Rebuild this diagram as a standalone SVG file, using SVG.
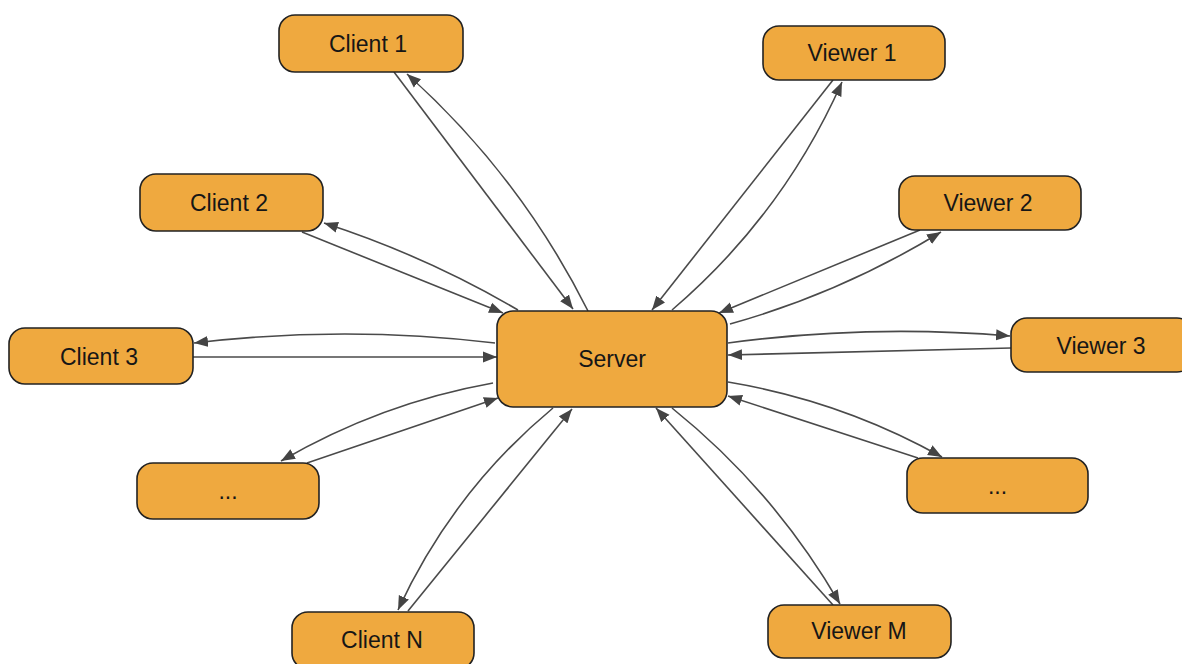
<svg xmlns="http://www.w3.org/2000/svg" width="1182" height="664" viewBox="0 0 1182 664">
<style>
.node rect{fill:#EFA93F;stroke:#222;stroke-width:1.6}
.node text{font-family:"Liberation Sans",Arial,sans-serif;font-size:23px;fill:#161616;text-anchor:middle;dominant-baseline:central}
#connectors path{fill:none;stroke:#4a4a4a;stroke-width:1.6;marker-end:url(#arrow)}
</style>
<defs>
<marker id="arrow" markerUnits="userSpaceOnUse" markerWidth="15" markerHeight="12" refX="14" refY="6" orient="auto">
<path d="M0,0.5 L14,6 L0,11.5 z" fill="#444"/>
</marker>
</defs>
<rect width="1182" height="664" fill="#fff"/>
<g id="connectors">
<path d="M394,72 L573,309"/>
<path d="M588,311 Q520,175.5 407,74"/>
<path d="M302,232 L503,313"/>
<path d="M518,310 Q426,256 324,223"/>
<path d="M193,357 L497,357"/>
<path d="M495,343 Q345,325 194,343"/>
<path d="M307,463 L498,398"/>
<path d="M493,383 Q381,403 281,461"/>
<path d="M408,611 L572,409"/>
<path d="M553,408 Q453,491 398,610"/>
<path d="M833,80 L652,310"/>
<path d="M672,310 Q783,215 842,82"/>
<path d="M920,230 L719,313"/>
<path d="M730,324 Q841,293 941,232"/>
<path d="M1011,348 L728,355"/>
<path d="M728,343 Q869,324 1010,336"/>
<path d="M918,458 L728,396"/>
<path d="M728,382 Q842,401 942,457"/>
<path d="M833,605 L656,408"/>
<path d="M672,408 Q774,490 840,604"/>
</g>
<g id="server" class="node"><rect x="497" y="311" width="230" height="96" rx="16"/><text x="612" y="359">Server</text></g>
<g id="client1" class="node"><rect x="279" y="15" width="184" height="57" rx="16"/><text x="368" y="44">Client 1</text></g>
<g id="client2" class="node"><rect x="140" y="174" width="183" height="57" rx="16"/><text x="229" y="203">Client 2</text></g>
<g id="client3" class="node"><rect x="9" y="328" width="184" height="56" rx="16"/><text x="99" y="357">Client 3</text></g>
<g id="clientdots" class="node"><rect x="137" y="463" width="182" height="56" rx="16"/><text x="228" y="491">...</text></g>
<g id="clientN" class="node"><rect x="292" y="612" width="182" height="57" rx="16"/><text x="382" y="640">Client N</text></g>
<g id="viewer1" class="node"><rect x="763" y="26" width="182" height="54" rx="16"/><text x="852" y="53">Viewer 1</text></g>
<g id="viewer2" class="node"><rect x="899" y="176" width="182" height="54" rx="16"/><text x="988" y="203">Viewer 2</text></g>
<g id="viewer3" class="node"><rect x="1011" y="318" width="182" height="54" rx="16"/><text x="1101" y="346">Viewer 3</text></g>
<g id="viewerdots" class="node"><rect x="907" y="458" width="181" height="55" rx="16"/><text x="997.5" y="486">...</text></g>
<g id="viewerM" class="node"><rect x="768" y="605" width="183" height="53" rx="16"/><text x="859" y="631">Viewer M</text></g>
</svg>
